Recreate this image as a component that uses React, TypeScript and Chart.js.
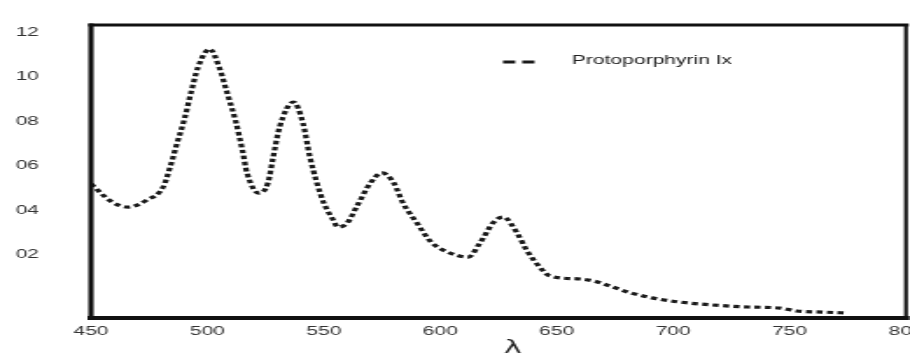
import React, { useEffect, useRef } from 'react';
import { Chart, registerables } from 'chart.js';

Chart.register(...registerables);

// ---- data ----
const seriesLabel = 'Protoporphyrin Ix';
const axisTitle = 'λ';

const wavelengths = [
  450, 459, 466, 474, 481, 484, 487, 490, 493, 496, 501, 505, 509, 512, 515, 517,
  522, 526, 528, 531, 537, 541, 544, 547, 550, 554, 556, 560, 564, 570, 575, 580,
  584, 590, 596, 603, 612, 617, 623, 627, 633, 637, 643, 647, 660, 666, 674, 682,
  691, 703, 717, 732, 746, 753, 764, 775,
];
const absorbance = [
  0.518, 0.437, 0.414, 0.446, 0.505, 0.595, 0.703, 0.806, 0.932, 1.045, 1.126, 1.045,
  0.91, 0.806, 0.671, 0.568, 0.477, 0.523, 0.626, 0.775, 0.887, 0.793, 0.64, 0.523,
  0.432, 0.356, 0.324, 0.342, 0.414, 0.523, 0.568, 0.523, 0.432, 0.342, 0.257, 0.212,
  0.189, 0.252, 0.347, 0.369, 0.297, 0.221, 0.14, 0.104, 0.09, 0.081, 0.054, 0.027,
  0.005, -0.014, -0.027, -0.036, -0.041, -0.054, -0.059, -0.063,
];

const xTickValues = [450, 500, 550, 600, 650, 700, 750, 800];
const yTickValues = [0.2, 0.4, 0.6, 0.8, 1.0, 1.2];
const yTickLabels = ['02', '04', '06', '08', '10', '12'];

// ---- layout (the figure is a horizontally stretched scan) ----
const PAGE_W = 910;
const PAGE_H = 358;
const STRETCH = 1.75;
const CANVAS_W = Math.round(PAGE_W / STRETCH);
const px = (pageX: number) => pageX / STRETCH;

const INK = '#1a1a1a';
const FONT = '"Liberation Sans", Arial, sans-serif';

const framePlugin = {
  id: 'scanFrame',
  afterDatasetsDraw(chart: any) {
    const { ctx, chartArea: a } = chart;
    ctx.save();
    ctx.strokeStyle = '#111';
    ctx.lineCap = 'square';
    const seg = (w: number, x1: number, y1: number, x2: number, y2: number) => {
      ctx.lineWidth = w;
      ctx.beginPath();
      ctx.moveTo(x1, y1);
      ctx.lineTo(x2, y2);
      ctx.stroke();
    };
    seg(3, a.left, a.top, a.right, a.top);
    seg(2.2, a.right, a.top, a.right, a.bottom);
    seg(4, a.left, a.bottom, a.right, a.bottom);
    seg(3, a.left, a.top, a.left, a.bottom);
    ctx.restore();
  },
  afterDraw(chart: any) {
    const { ctx } = chart;
    ctx.save();
    // legend sample
    ctx.strokeStyle = INK;
    ctx.lineWidth = 3;
    ctx.setLineDash([7, 4]);
    ctx.beginPath();
    ctx.moveTo(px(503), 62);
    ctx.lineTo(px(536), 62);
    ctx.stroke();
    ctx.setLineDash([]);
    // legend text
    ctx.fillStyle = '#222';
    ctx.font = `12px ${FONT}`;
    ctx.textAlign = 'left';
    ctx.textBaseline = 'middle';
    ctx.fillText(chart.data.datasets[0].label, px(572), 61);
    // axis title
    ctx.font = `17px "DejaVu Sans", sans-serif`;
    ctx.textAlign = 'center';
    ctx.fillText(axisTitle, px(513), 349);
    ctx.restore();
  },
};

export default function App() {
  const canvasRef = useRef<HTMLCanvasElement | null>(null);

  useEffect(() => {
    const canvas = canvasRef.current;
    if (!canvas) return;
    const chart = new Chart(canvas, {
      type: 'line',
      data: {
        datasets: [
          {
            label: seriesLabel,
            data: wavelengths.map((w, i) => ({ x: w, y: absorbance[i] })),
            borderColor: INK,
            borderWidth: 3.2,
            borderDash: [3.5, 2.5],
            pointRadius: 0,
            cubicInterpolationMode: 'monotone',
            fill: false,
          },
        ],
      },
      options: {
        responsive: false,
        maintainAspectRatio: false,
        devicePixelRatio: 1,
        animation: false,
        layout: { padding: { top: 25, right: CANVAS_W - px(906), bottom: 0, left: 0 } },
        plugins: {
          legend: { display: false },
          tooltip: { enabled: false },
          title: { display: false },
        },
        scales: {
          x: {
            type: 'linear',
            min: 450,
            max: 800,
            grid: { display: false },
            border: { display: false },
            afterFit: (s: any) => {
              s.height = 40;
              s.paddingLeft = 0;
              s.paddingRight = 0;
            },
            afterBuildTicks: (s: any) => {
              s.ticks = xTickValues.map((v) => ({ value: v }));
            },
            ticks: {
              color: '#333',
              font: { family: FONT, size: 12 },
              padding: -2,
              maxRotation: 0,
              autoSkip: false,
              callback: (v: any) => String(v),
            },
          },
          y: {
            type: 'linear',
            min: -0.0856,
            max: 1.2342,
            grid: { display: false },
            border: { display: false },
            afterFit: (s: any) => {
              s.width = px(91);
              s.paddingTop = 0;
              s.paddingBottom = 0;
            },
            afterBuildTicks: (s: any) => {
              s.ticks = yTickValues.map((v) => ({ value: v }));
            },
            ticks: {
              color: '#333',
              font: { family: FONT, size: 12 },
              padding: px(91) - px(53),
              autoSkip: false,
              callback: (v: any) => {
                const i = yTickValues.findIndex((t) => Math.abs(t - v) < 1e-6);
                return i >= 0 ? yTickLabels[i] : '';
              },
            },
          },
        },
      },
      plugins: [framePlugin],
    } as any);
    return () => chart.destroy();
  }, []);

  return (
    <div style={{ position: 'fixed', left: 0, top: 0, width: PAGE_W, height: PAGE_H, background: '#fff' }}>
      <canvas
        ref={canvasRef}
        width={CANVAS_W}
        height={PAGE_H}
        style={{ width: `${PAGE_W}px`, height: `${PAGE_H}px`, display: 'block' }}
      />
    </div>
  );
}
